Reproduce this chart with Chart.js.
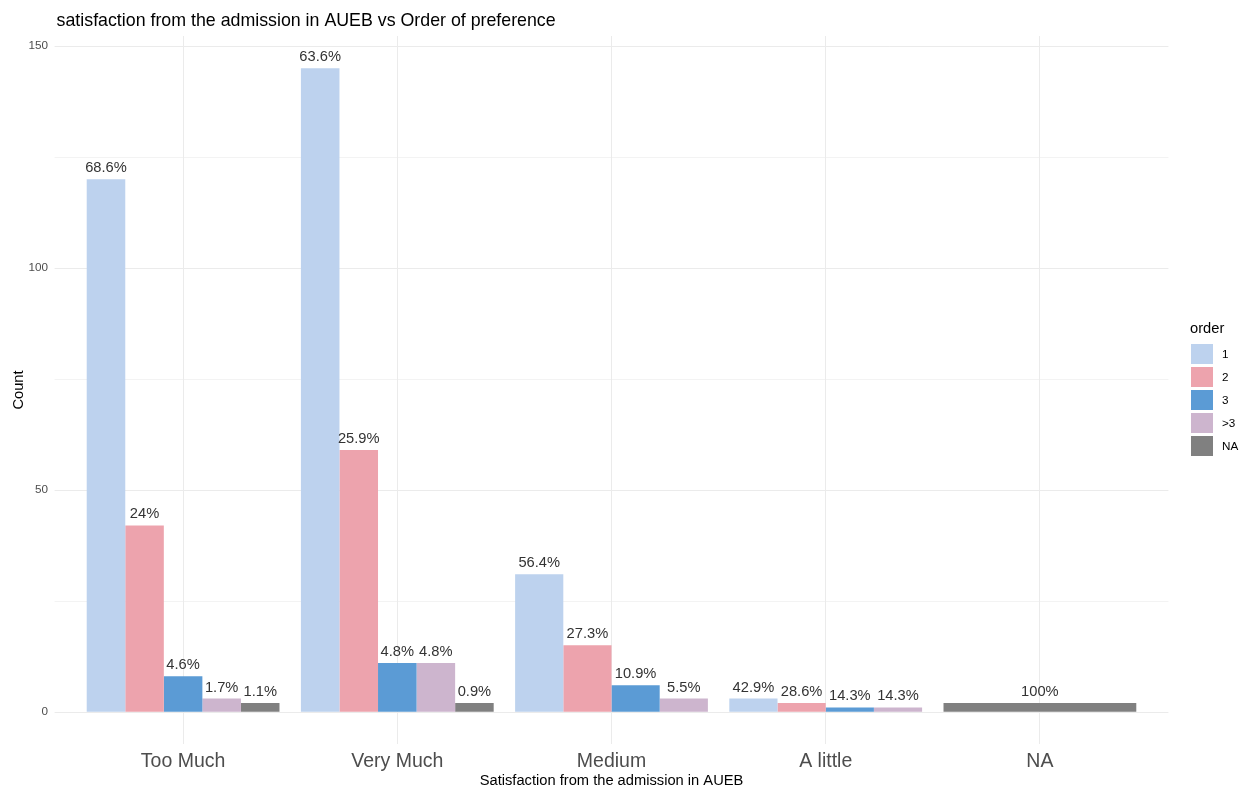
<!DOCTYPE html>
<html>
<head>
<meta charset="utf-8">
<script src="https://cdn.jsdelivr.net/npm/chart.js@4.4.1/dist/chart.umd.min.js"></script>
<style>
  html, body { margin: 0; padding: 0; background: #fff; }
  #wrap { width: 1250px; height: 792px; }
</style>
</head>
<body>
<div id="wrap"><canvas id="chart" width="1250" height="792"></canvas></div>
<script>
// satisfaction categories on the x axis
var categories = ['Too Much', 'Very Much', 'Medium', 'A little', 'NA'];
var orderLabels = ['1', '2', '3', '>3', 'NA'];
var colors = ['#BDD2EE', '#EDA3AD', '#5B9BD5', '#CDB5CE', '#808080'];

// counts per order of preference (null = no bar, ggplot dodge style)
var order1 = [120, 145, 31, 3, null];
var order2 = [42, 59, 15, 2, null];
var order3 = [8, 11, 6, 1, null];
var orderGt3 = [3, 11, 3, 1, null];
var orderNA = [2, 2, null, null, 2];

var yTicks = [0, 50, 100, 150];
var titleText = 'satisfaction from the admission in AUEB vs Order of preference';

var series = [order1, order2, order3, orderGt3, orderNA];
var totals = categories.map(function (c, i) {
  return series.reduce(function (s, arr) { return s + (arr[i] || 0); }, 0);
});

var FONT = '"Liberation Sans", Arial, sans-serif';

// ggplot-ish panel: wide horizontal grid, % labels, title, legend
var ggPanel = {
  id: 'ggPanel',
  beforeDatasetsDraw: function (chart) {
    var ctx = chart.ctx, ca = chart.chartArea, y = chart.scales.y;
    var ext = (ca.right - ca.left) / 5 * 0.1;
    ctx.save();
    for (var v = 0; v <= 150; v += 25) {
      var py = Math.round(y.getPixelForValue(v)) + 0.5;
      ctx.strokeStyle = '#ebebeb';
      ctx.lineWidth = v % 50 === 0 ? 1 : 0.6;
      ctx.beginPath();
      ctx.moveTo(ca.left - ext, py);
      ctx.lineTo(ca.right + ext, py);
      ctx.stroke();
    }
    ctx.restore();
  },
  afterDatasetsDraw: function (chart) {
    var ctx = chart.ctx;
    ctx.save();
    ctx.font = '14.7px ' + FONT;
    ctx.fillStyle = '#333333';
    ctx.textAlign = 'center';
    ctx.textBaseline = 'middle';
    chart.data.datasets.forEach(function (ds, di) {
      var meta = chart.getDatasetMeta(di);
      meta.data.forEach(function (bar, i) {
        var v = ds.data[i];
        if (v == null) return;
        var pct = Math.round(v / totals[i] * 1000) / 10;
        ctx.fillText(pct + '%', bar.x, bar.y - 11);
      });
    });
    ctx.restore();
  },
  afterDraw: function (chart) {
    var ctx = chart.ctx, ca = chart.chartArea;
    var ext = (ca.right - ca.left) / 5 * 0.1;
    ctx.save();
    // plot title, aligned with the panel like ggplot
    ctx.font = '17.8px ' + FONT;
    ctx.fillStyle = '#000';
    ctx.textBaseline = 'alphabetic';
    ctx.fillText(titleText, ca.left - ext + 2, 26);
    // legend
    ctx.textBaseline = 'middle';
    ctx.font = '14.7px ' + FONT;
    ctx.fillText('order', 1190, 329);
    ctx.font = '11.7px ' + FONT;
    chart.data.datasets.forEach(function (ds, di) {
      var top = 344 + di * 23;
      ctx.fillStyle = ds.backgroundColor;
      ctx.fillRect(1191, top, 22, 20);
      ctx.fillStyle = '#000';
      ctx.fillText(ds.label, 1222, top + 11);
    });
    ctx.restore();
  }
};

var chart = new Chart(document.getElementById('chart').getContext('2d'), {
  type: 'bar',
  data: {
    labels: categories,
    datasets: series.map(function (arr, i) {
      return {
        label: orderLabels[i],
        data: arr,
        backgroundColor: colors[i],
        borderWidth: 0,
        skipNull: true,
        categoryPercentage: 0.9,
        barPercentage: 1.0
      };
    })
  },
  options: {
    responsive: false,
    animation: false,
    layout: { padding: { left: 10, right: 103, top: 36, bottom: 2 } },
    plugins: {
      legend: { display: false },
      tooltip: { enabled: false },
      title: { display: false }
    },
    scales: {
      x: {
        offset: true,
        grid: { offset: false, color: '#ebebeb', drawTicks: false },
        border: { display: false },
        ticks: { color: '#4d4d4d', font: { family: FONT, size: 19.5 }, padding: 6 },
        title: {
          display: true,
          text: 'Satisfaction from the admission in AUEB',
          color: '#000',
          font: { family: FONT, size: 14.7 },
          padding: { top: 0, bottom: 0 }
        },
        afterFit: function (s) { s.height = 46; }
      },
      y: {
        min: -7.25,
        max: 152.25,
        grid: { display: false, drawTicks: false },
        border: { display: false },
        afterBuildTicks: function (s) {
          s.ticks = yTicks.map(function (v) { return { value: v }; });
        },
        ticks: { color: '#4d4d4d', font: { family: FONT, size: 11.7 }, padding: 28 },
        title: {
          display: true,
          text: 'Count',
          color: '#000',
          font: { family: FONT, size: 14.7 },
          padding: { top: 0, bottom: 0 }
        },
        afterFit: function (s) { s.width = 66; }
      }
    }
  },
  plugins: [ggPanel]
});
</script>
</body>
</html>
